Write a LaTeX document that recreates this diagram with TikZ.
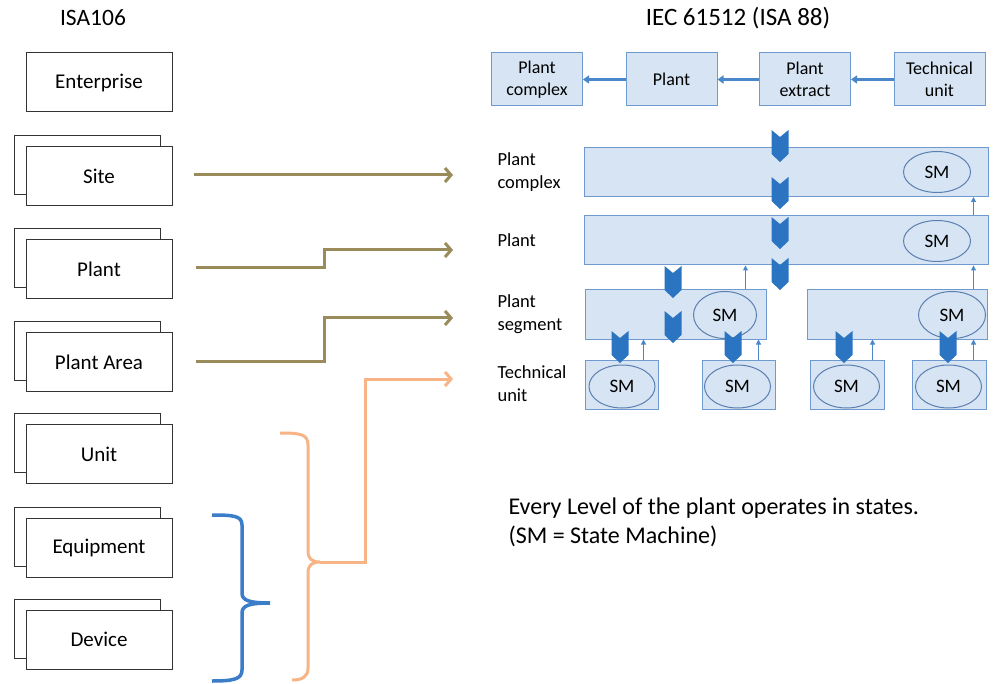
\documentclass[tikz,border=0pt]{standalone}
\usepackage{fontspec}
\setmainfont{Carlito}
\usetikzlibrary{arrows.meta,shapes.geometric,shadows,calc}
\definecolor{barfill}{HTML}{D6E4F3}
\definecolor{bardraw}{HTML}{6F9ACF}
\definecolor{chevblue}{HTML}{2B74C2}
\definecolor{olivec}{HTML}{9A8B5B}
\definecolor{peach}{HTML}{F7B486}
\definecolor{bracebl}{HTML}{3C7DC9}
\definecolor{toparr}{HTML}{4A87CA}
\definecolor{smdraw}{HTML}{5A7FB0}
\begin{document}
\begin{tikzpicture}[x=1pt,y=-1pt,
 isabox/.style={draw=black!80, line width=1pt, fill=white, minimum width=146pt, minimum height=59pt, inner sep=0pt, font=\fontsize{21}{24}\selectfont},
 stackbox/.style={isabox, copy shadow={shadow xshift=-12pt, shadow yshift=11pt, draw=black!80, fill=white, line width=1pt}},
 toprow/.style={draw=bardraw, fill=barfill, line width=1pt, minimum width=91pt, minimum height=53pt, inner sep=0pt, align=center, font=\fontsize{18}{22}\selectfont},
 bar/.style={draw=bardraw, fill=barfill, line width=1pt, inner sep=0pt, minimum height=49pt},
 sm/.style={ellipse, draw=smdraw, line width=1pt, fill=barfill, inner sep=0pt, font=\fontsize{19}{22}\selectfont},
 lvl/.style={anchor=west, align=left, font=\fontsize{18.5}{23}\selectfont},
 toparrow/.style={draw=toparr, line width=2.6pt, -{Triangle[length=6pt,width=8pt]}},
 uparrow/.style={draw=toparr, line width=1pt, -{Triangle[length=5pt,width=5pt]}},
 olivearr/.style={draw=olivec, line width=3pt, -{Straight Barb[length=6pt,width=14pt]}},
 peacharr/.style={draw=peach, line width=3pt, -{Straight Barb[length=6pt,width=14pt]}},
 chev/.pic={\fill[chevblue] (-8.5,0) -- (0,7) -- (8.5,0) -- (8.5,24) -- (0,32) -- (-8.5,24) -- cycle;}
]
\useasboundingbox (0,0) rectangle (1003,684);
\fill[white] (0,0) rectangle (1003,684);

% titles
\node[font=\fontsize{23.5}{26}\selectfont] (t1) at (93,18) {ISA106};
\node[font=\fontsize{25}{28}\selectfont] (t2) at (738,18) {IEC 61512 (ISA 88)};

% ISA106 boxes
\node[isabox] (ent) at (99,82.5) {Enterprise};
\node[stackbox] (site) at (99,176) {Site};
\node[stackbox] (plantL) at (99,269) {Plant};
\node[stackbox] (area) at (99,362) {Plant Area};
\node[stackbox] (unit) at (99,454) {Unit};
\node[stackbox] (equip) at (99,547.5) {Equipment};
\node[stackbox] (dev) at (99,639.5) {Device};

% top row
\node[toprow] (r1) at (537,79.5) {Plant\\complex};
\node[toprow] (r2) at (671.5,79.5) {Plant};
\node[toprow] (r3) at (805,79.5) {Plant\\extract};
\node[toprow] (r4) at (939.5,79.5) {Technical\\unit};
\draw[toparrow] (r4.west) -- (r3.east);
\draw[toparrow] (r3.west) -- (r2.east);
\draw[toparrow] (r2.west) -- (r1.east);

% level labels
\node[lvl] (l1) at (494,172) {Plant\\complex};
\node[lvl] (l2) at (494,240) {Plant};
\node[lvl] (l3) at (494,314) {Plant\\segment};
\node[lvl] (l4) at (494,384) {Technical\\unit};

% bars
\node[bar, minimum width=404pt] (pc) at (786,172) {};
\node[bar, minimum width=404pt] (pl) at (786,240.5) {};
\node[bar, minimum width=181pt] (sg1) at (675.5,314.5) {};
\node[bar, minimum width=180pt] (sg2) at (897,314.5) {};
\node[bar, minimum width=73pt] (tu1) at (621.5,384.5) {};
\node[bar, minimum width=73pt] (tu2) at (738.5,384.5) {};
\node[bar, minimum width=74pt] (tu3) at (847,384.5) {};
\node[bar, minimum width=74pt] (tu4) at (949,384.5) {};

% SM ellipses
\node[sm, minimum width=67pt, minimum height=41pt] (sm1) at (937,172) {SM};
\node[sm, minimum width=67pt, minimum height=41pt] (sm2) at (937,241) {SM};
\node[sm, minimum width=63pt, minimum height=47pt] (sm3) at (725,315) {SM};
\node[sm, minimum width=67pt, minimum height=47pt] (sm4) at (952,315) {SM};
\node[sm, minimum width=66pt, minimum height=43pt] (sm5) at (622,386.5) {SM};
\node[sm, minimum width=66pt, minimum height=43pt] (sm6) at (737.5,386.5) {SM};
\node[sm, minimum width=66pt, minimum height=43pt] (sm7) at (846.5,386.5) {SM};
\node[sm, minimum width=66pt, minimum height=43pt] (sm8) at (948.5,386.5) {SM};

% chevrons
\pic at (780,130) {chev};
\pic at (780,177) {chev};
\pic at (780,217) {chev};
\pic at (780,258) {chev};
\pic at (673,266) {chev};
\pic at (673,311) {chev};
\pic at (620,331) {chev};
\pic at (733,331) {chev};
\pic at (844,331) {chev};
\pic at (948,331) {chev};

% thin up arrows
\path ($(tu1.north east)+(-15,0)$) coordinate (u1);
\path ($(tu2.north east)+(-17,0)$) coordinate (u2);
\path ($(tu3.north east)+(-12,0)$) coordinate (u3);
\path ($(tu4.north east)+(-13,0)$) coordinate (u4);
\path ($(sg1.north east)+(-21,0)$) coordinate (u5);
\path ($(sg2.north east)+(-14,0)$) coordinate (u6);
\path ($(pl.north east)+(-15,0)$) coordinate (u7);
\draw[uparrow] (u1) -- (u1 |- sg1.south);
\draw[uparrow] (u2) -- (u2 |- sg1.south);
\draw[uparrow] (u3) -- (u3 |- sg2.south);
\draw[uparrow] (u4) -- (u4 |- sg2.south);
\draw[uparrow] (u5) -- (u5 |- pl.south);
\draw[uparrow] (u6) -- (u6 |- pl.south);
\draw[uparrow] (u7) -- (u7 |- pc.south);

% olive connectors
\coordinate (eS) at (453,175);
\coordinate (eP) at (453,250);
\coordinate (eA) at (453,318);
\coordinate (eT) at (453,379);
\draw[olivearr] ($(site.east)+(21,-1)$) -- (eS);
\draw[olivearr] ($(plantL.east)+(23,-1)$) -- ++(129,0) |- (eP);
\draw[olivearr] ($(area.east)+(23,-1)$) -- ++(129,0) |- (eA);

% orange brace
\coordinate (ot) at (320,562);
\draw[peach, line width=3pt] (280,433) .. controls (300,433) and (308,434) .. (308,445) -- (308,551) .. controls (308,559) and (312,562) .. (ot) .. controls (312,562) and (308,565) .. (308,573) -- (308,668) .. controls (308,677) and (302,680) .. (292,680);
\draw[peacharr] (ot) -- ++(45,0) |- (eT);

% blue brace
\draw[bracebl, line width=3.5pt] (212,515) .. controls (234,515) and (242,516) .. (242,525) -- (242,593) .. controls (242,600) and (248,603) .. (270,603) .. controls (248,603) and (242,606) .. (242,613) -- (242,670) .. controls (242,679) and (234,681) .. (212,681);

% note
\node[anchor=west, align=left, font=\fontsize{24}{29}\selectfont] (note) at (505,522) {Every Level of the plant operates in states.\\(SM = State Machine)};
\end{tikzpicture}
\end{document}
